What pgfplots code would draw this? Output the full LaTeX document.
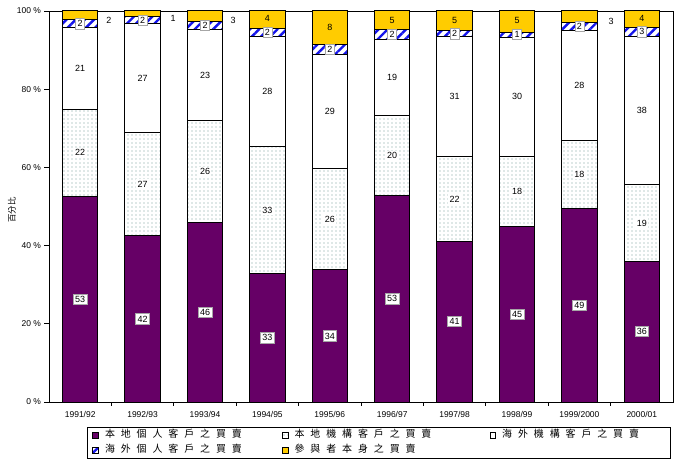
\documentclass[border=0pt]{standalone}
\usepackage{fontspec}
\setmainfont{Liberation Sans}
\newfontfamily\cjk{Noto Sans CJK TC}
\usepackage{pgfplots}
\pgfplotsset{compat=1.18}
\usepackage{pgfplotstable}
\usetikzlibrary{patterns.meta}
\definecolor{cpurple}{RGB}{102,0,102}
\definecolor{cgold}{RGB}{255,204,0}
\definecolor{cblue}{RGB}{20,20,235}
\definecolor{cdot}{RGB}{115,155,150}
\newcommand{\gp}{\kern5.9bp}

% shares (%) by type of trading: local individual, local institutional,
% overseas institutional, overseas individual, participants' own trading
\pgfplotstableread{
x p1 p2 p3 p4 p5
0 52.6 22.3 20.9 1.9 2.3
1 42.5 26.5 27.7 2.0 1.3
2 45.8 26.2 23.3 2.0 2.7
3 32.8 32.5 28.3 2.0 4.4
4 33.8 26.0 29.2 2.4 8.6
5 52.8 20.6 19.4 2.5 4.7
6 41.1 21.7 30.6 1.6 5.0
7 44.8 18.0 30.5 1.3 5.4
8 49.4 17.5 28.1 2.1 2.9
9 36.0 19.6 38.0 2.2 4.2
}\shares

% labels in boxed white frames (local individual, overseas individual)
\pgfplotstableread{
x y l
0 26.3 53
1 21.25 42
2 22.9 46
3 16.4 33
4 16.9 34
5 26.4 53
6 20.55 41
7 22.4 45
8 24.7 49
9 18.0 36
0 96.75 2
1 97.7 2
2 96.3 2
3 94.6 2
4 90.2 2
5 94.05 2
6 94.2 2
7 93.95 1
8 96.05 2
9 94.7 3
}\boxlabels

% labels on white ground (local institutional, overseas institutional)
\pgfplotstableread{
x y l
0 63.75 22
1 55.75 27
2 58.9 26
3 49.05 33
4 46.8 26
5 63.1 20
6 51.95 22
7 53.8 18
8 58.15 18
9 45.8 19
0 85.35 21
1 82.85 27
2 83.65 23
3 79.45 28
4 74.4 29
5 83.1 19
6 78.1 31
7 78.05 30
8 80.95 28
9 74.6 38
}\whitelabels

% labels of participants' own trading
\pgfplotstableread{
x y l
0.46 97.6 2
1.49 98.0 1
2.45 97.6 3
3 98.0 4
4 95.7 8
5 97.7 5
6 97.6 5
7 97.5 5
8.51 97.3 3
9 98.0 4
}\goldlabels

\pgfplotsset{sqlegend/.style={legend image code/.code={\draw[##1, line width=0.6bp] (0bp,-2.75bp) rectangle (5.5bp,2.75bp);}}}

\begin{document}
\begin{tikzpicture}
\useasboundingbox (0,0) rectangle (684bp,463bp);
\begin{axis}[
  at={(49bp,61bp)}, anchor=south west,
  width=624bp, height=391bp, scale only axis,
  ybar stacked, bar width=0.57,
  xmin=-0.5, xmax=9.5, ymin=0, ymax=100,
  xtick={0,...,9},
  xticklabels={1991/92,1992/93,1993/94,1994/95,1995/96,1996/97,1997/98,1998/99,1999/2000,2000/01},
  minor xtick={0.5,1.5,...,8.5},
  ytick={0,20,...,100},
  yticklabels={0 \%,20 \%,40 \%,60 \%,80 \%,100 \%},
  tick align=outside, xtick pos=bottom, ytick pos=left,
  major x tick style={draw=none},
  minor tick length=4bp, major tick length=4.5bp,
  tick style={black, line width=0.8bp},
  axis line style={line width=0.8bp},
  ticklabel style={font=\fontsize{8.5}{10}\selectfont},
  xticklabel style={yshift=-1bp},
  ylabel={\cjk 百分比},
  ylabel style={at={(axis description cs:-0.0593,0.491)}, anchor=center, font=\fontsize{8.5}{9}\selectfont},
  legend columns=3,
  legend cell align=left,
  legend style={at={(0.0609,-0.0639)}, anchor=north west, draw=black, line width=0.8bp,
    inner xsep=5bp, inner ysep=0.5bp, column sep=0pt, row sep=0pt,
    font=\fontsize{10}{11}\selectfont,
    nodes={inner sep=0pt, text height=10bp, text depth=5bp}},
]
\addplot[fill=cpurple, draw=black, line width=1bp, sqlegend] table[x=x,y=p1]{\shares};
\addplot[pattern={Dots[distance=4bp,radius=0.6bp]}, pattern color=cdot, draw=black, line width=1bp, sqlegend] table[x=x,y=p2]{\shares};
\addplot[fill=white, draw=black, line width=1bp, sqlegend] table[x=x,y=p3]{\shares};
\addplot[preaction={fill=white}, pattern={Lines[angle=45,distance=6.5bp,line width=2.4bp]}, pattern color=cblue, draw=black, line width=1bp, sqlegend] table[x=x,y=p4]{\shares};
\addplot[fill=cgold, draw=black, line width=1bp, sqlegend] table[x=x,y=p5]{\shares};
\addlegendentry{\makebox[183.5bp][l]{\hspace{6.5bp}\cjk 本\gp 地\gp 個\gp 人\gp 客\gp 戶\gp 之\gp 買\gp 賣}}
\addlegendentry{\makebox[201.5bp][l]{\hspace{6.5bp}\cjk 本\gp 地\gp 機\gp 構\gp 客\gp 戶\gp 之\gp 買\gp 賣}}
\addlegendentry{\makebox[169.5bp][l]{\hspace{6.5bp}\cjk 海\gp 外\gp 機\gp 構\gp 客\gp 戶\gp 之\gp 買\gp 賣}}
\addlegendentry{\makebox[183.5bp][l]{\hspace{6.5bp}\cjk 海\gp 外\gp 個\gp 人\gp 客\gp 戶\gp 之\gp 買\gp 賣}}
\addlegendentry{\makebox[201.5bp][l]{\hspace{6.5bp}\cjk 參\gp 與\gp 者\gp 本\gp 身\gp 之\gp 買\gp 賣}}
\end{axis}
\begin{axis}[
  at={(49bp,61bp)}, anchor=south west,
  width=624bp, height=391bp, scale only axis,
  hide axis, clip=false,
  xmin=-0.5, xmax=9.5, ymin=0, ymax=100,
]
\addplot[draw=none, mark=none, nodes near coords, point meta=explicit symbolic,
  nodes near coords style={anchor=center, fill=white, draw=black!35, line width=0.6bp, inner xsep=2bp, inner ysep=2bp, font=\fontsize{9}{10}\selectfont}]
  table[x=x,y=y,meta=l]{\boxlabels};
\addplot[draw=none, mark=none, nodes near coords, point meta=explicit symbolic,
  nodes near coords style={anchor=center, fill=white, inner xsep=1.5bp, inner ysep=1.5bp, font=\fontsize{9}{10}\selectfont}]
  table[x=x,y=y,meta=l]{\whitelabels};
\addplot[draw=none, mark=none, nodes near coords, point meta=explicit symbolic,
  nodes near coords style={anchor=center, inner sep=1bp, font=\fontsize{9}{10}\selectfont}]
  table[x=x,y=y,meta=l]{\goldlabels};
\end{axis}
\end{tikzpicture}
\end{document}
